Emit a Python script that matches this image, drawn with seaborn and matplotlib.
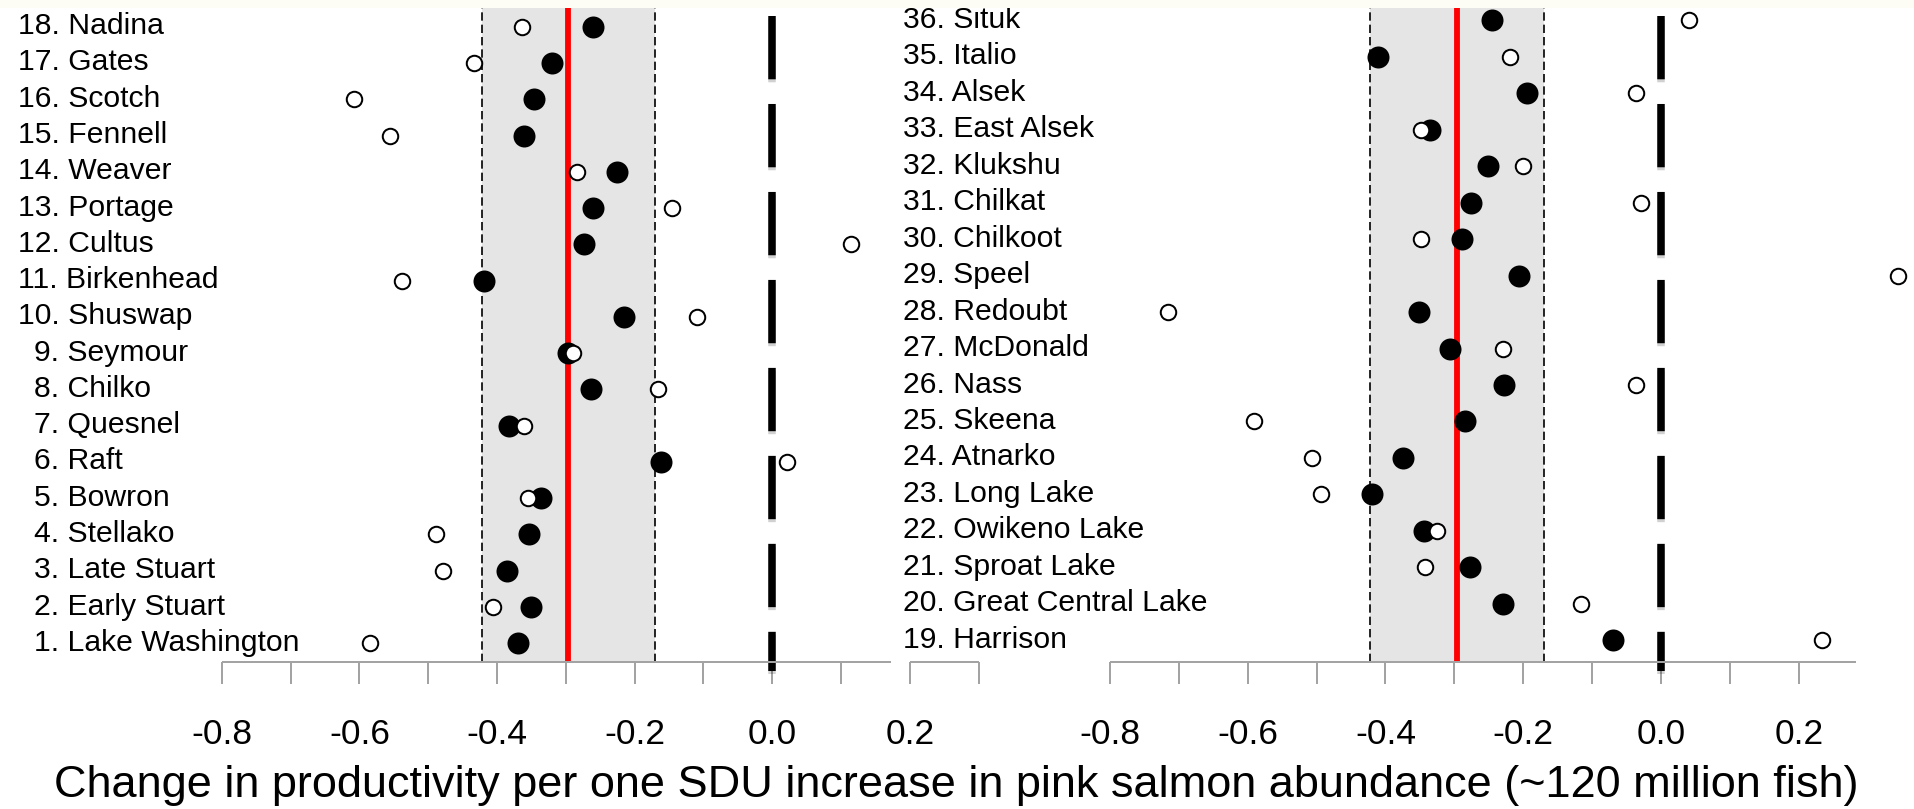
import numpy as np
import pandas as pd
import matplotlib
matplotlib.use("Agg")
import matplotlib.pyplot as plt
import matplotlib.transforms as mtransforms
import matplotlib.patheffects as pe
from matplotlib.patches import Rectangle
import seaborn as sns

# ------------------------------------------------------------------ data
stocks_left = ["Lake Washington", "Early Stuart", "Late Stuart", "Stellako", "Bowron",
               "Raft", "Quesnel", "Chilko", "Seymour", "Shuswap", "Birkenhead",
               "Cultus", "Portage", "Weaver", "Fennell", "Scotch", "Gates", "Nadina"]
filled_left = [-0.370, -0.350, -0.385, -0.353, -0.336, -0.161, -0.382, -0.264, -0.296,
               -0.215, -0.419, -0.274, -0.260, -0.226, -0.360, -0.346, -0.320, -0.261]
open_left = [-0.584, -0.406, -0.479, -0.489, -0.355, 0.021, -0.361, -0.166, -0.289,
             -0.109, -0.538, 0.115, -0.146, -0.283, -0.556, -0.608, -0.433, -0.364]

stocks_right = ["Harrison", "Great Central Lake", "Sproat Lake", "Owikeno Lake",
                "Long Lake", "Atnarko", "Skeena", "Nass", "McDonald", "Redoubt",
                "Speel", "Chilkoot", "Chilkat", "Klukshu", "East Alsek", "Alsek",
                "Italio", "Situk"]
filled_right = [-0.069, -0.229, -0.278, -0.344, -0.420, -0.375, -0.285, -0.228, -0.307,
                -0.352, -0.206, -0.289, -0.276, -0.251, -0.335, -0.194, -0.411, -0.246]
open_right = [0.233, -0.116, -0.343, -0.325, -0.494, -0.506, -0.591, -0.036, -0.229,
              -0.716, 0.344, -0.348, -0.029, -0.201, -0.348, -0.036, -0.219, 0.041]

mean_effect = -0.296
ci_low, ci_high = -0.422, -0.170
zero_ref = 0.0

tick_values_left = [-0.8, -0.7, -0.6, -0.5, -0.4, -0.3, -0.2, -0.1, 0.0, 0.1, 0.2, 0.3]
tick_labels_left = ["-0.8", "", "-0.6", "", "-0.4", "", "-0.2", "", "0.0", "", "0.2", ""]
tick_values_right = [-0.8, -0.7, -0.6, -0.5, -0.4, -0.3, -0.2, -0.1, 0.0, 0.1, 0.2]
tick_labels_right = ["-0.8", "", "-0.6", "", "-0.4", "", "-0.2", "", "0.0", "", "0.2"]

x_title = ("Change in productivity per one SDU increase in pink salmon abundance "
           "(~120 million fish)")

# ------------------------------------------------------------------ style
sns.set_style("white")
plt.rcParams["font.family"] = ["Liberation Sans", "DejaVu Sans"]

W, H = 1915, 809
fig = plt.figure(figsize=(W / 100, H / 100), dpi=100)
fig.patch.set_facecolor("white")


def fx(px):
    return px / W


def fy(py):
    return 1 - py / H


TOP, BOT = 8.3, 662.3
GRAY_AX = "#a3a3a3"
LABEL_FS = 21.7
TICK_FS = 25.5


def make_panel(rect_px, xlim, ylim, names, first_idx, filled, opened,
               tick_vals, tick_labs, axis_end, label_x_two, label_x_one, gap=None):
    x0, x1 = rect_px
    ax = fig.add_axes([fx(x0), fy(BOT), (x1 - x0) / W, (BOT - TOP) / H])
    ax.set_facecolor("none")
    for s in ax.spines.values():
        s.set_visible(False)

    rows = np.arange(first_idx, first_idx + len(names))
    df = pd.DataFrame({"stock": names, "row": rows, "filled": filled, "open": opened})

    xt = ax.get_xaxis_transform()
    # confidence band + mean line
    ax.axvspan(ci_low, ci_high, color="#e5e5e5", zorder=0, lw=0)
    for v in (ci_low, ci_high):
        ax.axvline(v, color="black", lw=1.2, linestyle=(0, (5, 2.4)), zorder=1)
    ax.axvline(mean_effect, color="#ff0000", lw=4.2, zorder=2)
    # zero reference (thick dashed)
    ax.plot([zero_ref, zero_ref], [0.98823, -0.01284], transform=xt, color="black",
            lw=5.4, dashes=(8.44, 3.29), solid_capstyle="butt", dash_capstyle="butt",
            clip_on=False, zorder=3,
            path_effects=[pe.SimpleLineShadow(offset=(0, -2.5), shadow_color="black",
                                              alpha=0.18), pe.Normal()])

    sns.scatterplot(data=df, x="filled", y="row", ax=ax, s=251, color="black",
                    edgecolor="black", linewidth=0, zorder=5, legend=False,
                    clip_on=False)
    sns.scatterplot(data=df, x="open", y="row", ax=ax, s=124, color="white",
                    edgecolor="black", linewidth=1.44, zorder=6, legend=False,
                    clip_on=False)

    ax.set_xlim(*xlim)
    ax.set_ylim(*ylim)
    ax.set_xlabel("")
    ax.set_ylabel("")
    ax.set_yticks([])

    # axis line
    segs = [(tick_vals[0], axis_end)] if gap is None else [(tick_vals[0], gap[0]), (gap[1], axis_end)]
    for a, b in segs:
        ax.plot([a, b], [0, 0], transform=xt, color=GRAY_AX, lw=1.44,
                solid_capstyle="butt", clip_on=False, zorder=4)
    ax.set_xticks(tick_vals)
    ax.set_xticklabels(tick_labs)
    ax.tick_params(axis="x", direction="out", length=15.84, width=1.44, color=GRAY_AX,
                   pad=24, labelsize=TICK_FS, labelcolor="black", bottom=True)

    # stock labels
    bt = mtransforms.blended_transform_factory(fig.transFigure, ax.transData)
    bt = mtransforms.offset_copy(bt, fig=fig, x=0, y=-7.5, units="dots")
    for r, name in zip(rows, names):
        xpx = label_x_two if r >= 10 else label_x_one
        ax.text(fx(xpx), r, f"{r}. {name}", transform=bt, ha="left", va="baseline",
                fontsize=LABEL_FS, color="black", clip_on=False)
    return ax


# left panel: x(v) = 772.2 + 688 v
axL = make_panel((221.7, 978.6), (-0.8, 0.3), (0.476, 18.507), stocks_left, 1,
                 filled_left, open_left, tick_values_left, tick_labels_left,
                 axis_end=0.3, label_x_two=18.3, label_x_one=34.5, gap=(0.173, 0.2))
# right panel: x(v) = 1661 + 689 v
axR = make_panel((1109.9, 1915), (-0.8, (1915 - 1661) / 689), (18.397, 36.329),
                 stocks_right, 19, filled_right, open_right, tick_values_right,
                 tick_labels_right, axis_end=0.2835, label_x_two=902.7,
                 label_x_one=902.7)

fig.text(fx(956), fy(797.5), x_title, ha="center", va="baseline", fontsize=32.5,
         color="black")

# faint strip at the very top of the image
fig.add_artist(Rectangle((0, fy(TOP)), 1, TOP / H, transform=fig.transFigure,
                         facecolor="#fdfdf6", edgecolor="none", zorder=100))

fig.savefig("out.png", dpi=100, facecolor="white")
